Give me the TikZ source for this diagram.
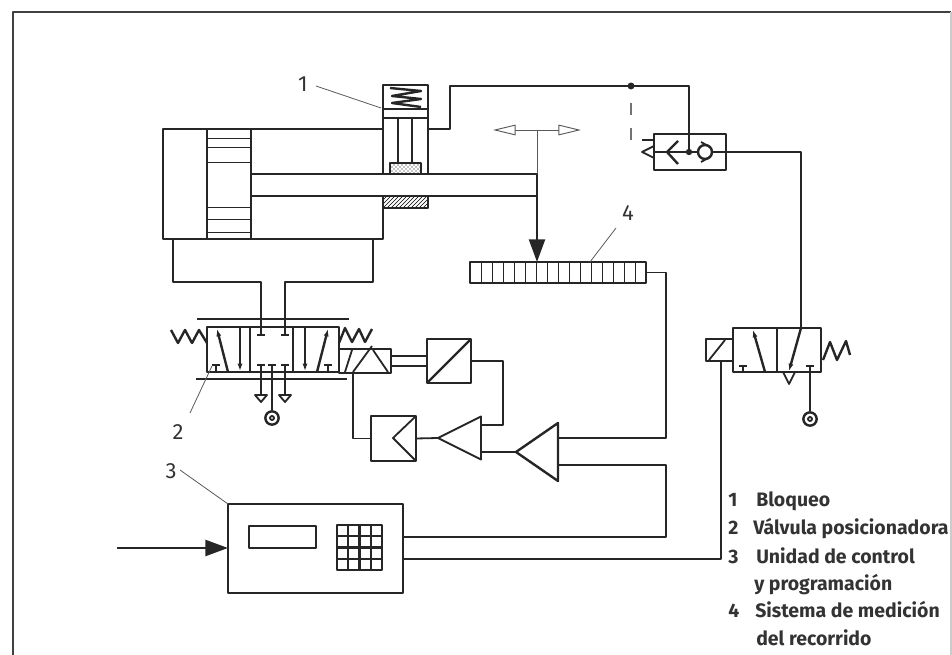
\documentclass[tikz,border=0pt]{standalone}
\usepackage{fontspec}
\setmainfont{Fira Sans}
\usetikzlibrary{arrows.meta, positioning, shapes.geometric, patterns, calc}

\begin{document}
\begin{tikzpicture}[x=.75pt, y=-.75pt, line join=round, color=black!85,
    ln/.style={line width=1.8pt},
    tn/.style={line width=1.35pt},
    leader/.style={line width=.6pt, color=black!65},
    box/.style={draw, ln, rectangle, inner sep=0pt, outer sep=0pt},
    amp/.style={draw, tn, isosceles triangle, shape border rotate=180, isosceles triangle stretches, inner sep=0pt, outer sep=0pt, anchor=apex},
    flowtip/.style={-{Latex[length=5.5pt, width=3.8pt]}},
    bigtip/.style={-{Triangle[length=17pt, width=12pt]}},
    opentip/.style={-{Triangle[open, length=17pt, width=8pt, fill=white]}},
    stopbar/.style={ln, line cap=butt},
    port/.style={draw, ln, circle, fill=white, minimum size=10pt, inner sep=0pt},
    portdot/.style={draw, tn, circle, minimum size=3pt, inner sep=0pt},
    num/.style={font=\fontsize{16.5}{16.5}\selectfont, color=black!80},
    lgd/.style={font=\fontsize{14.6}{14.6}\selectfont\bfseries, color=black!80, anchor=base west, inner sep=0pt}]
    \useasboundingbox (0,0) rectangle (952,655);

    \draw[line width=1.5pt, color=black!75] (13,655) -- (13,12) -- (951,12);
    \draw[line width=1pt, color=black!20] (951,12) -- (951,655);

    % cylinder
    \node[box, minimum width=165pt, minimum height=82.5pt, anchor=north west] (cyl) at (163,129) {};
    \node[box, tn, minimum width=33pt, minimum height=82.5pt, anchor=north west] (piston) at (207,129) {};
    \foreach \y in {138,147,162,207,219,232}
        \draw[line width=.5pt] (207,\y) -- (251,\y);
    \node[box, fill=white, minimum width=214.5pt, minimum height=16.5pt, anchor=north west] (rod) at (251,174) {};

    % lock
    \node[box, minimum width=33.75pt, minimum height=66.75pt, anchor=north west] (lock) at (383,85) {};
    \draw[tn] (383,109) -- (428,109) (383,118) -- (428,118);
    \draw[ln] (398,118) -- (398,163) (412,118) -- (412,163);
    \draw[ln, pattern=crosshatch dots] (390,174) -- (390,163) -- (421,163) -- (421,174);
    \draw[ln] (390,88) -- (421,91) -- (392,96) -- (421,99) -- (392,103) -- (421,107);
    \node[box, tn, pattern=north east lines, minimum width=33.75pt, minimum height=9pt, anchor=north west] (pad) at (383,196) {};

    % position scale
    \node[box, minimum width=132pt, minimum height=15.75pt, anchor=north west] (scale) at (470,262) {};
    \foreach \i in {1,...,15}
        \draw[line width=.5pt] ($(470,262)+(\i*11,0)$) -- ++(0,21);
    \coordinate (rodtip) at (537,196);
    \draw[ln, bigtip] (rodtip) -- (rodtip |- scale.north);
    \coordinate (motion) at (537,130);
    \draw[leader, line width=.7pt] (motion) -- (537,174);
    \draw[leader, line width=.7pt, opentip] (motion) -- (493,130);
    \draw[leader, line width=.7pt, opentip] (motion) -- (581,130);

    % position valve
    \node[box, minimum width=99pt, minimum height=33.75pt, anchor=north west] (valve) at (207,327) {};
    \draw[ln] (250,327) -- (250,372) (293,327) -- (293,372);
    \draw[ln] (197,319) -- (349,319);
    \draw[line width=2.2pt] (196,379) -- (347,379);
    \draw[ln, flowtip] (228,372) -- (217,329);
    \draw[ln, flowtip] (240,327) -- (240,371);
    \draw[ln, flowtip] (305,327) -- (305,371);
    \draw[ln, flowtip] (317,372) -- (328,329);
    \foreach \x in {261,285} {
        \draw[stopbar] (\x-4,335) -- (\x+4,335);
        \draw[stopbar] (\x-4,365) -- (\x+4,365);
        \draw[tn] (\x,365) -- (\x,395);
        \draw[tn] (\x-6,395) -- (\x+6,395) -- (\x,402) -- cycle;
    }
    \foreach \x/\y in {216/365,272/365,328/365} {
        \draw[stopbar] (\x-4,\y) -- (\x+4,\y);
    }
    \draw[tn] (216,365) -- (216,372) (328,365) -- (328,372);
    \node[port] (supply1) at (272,418) {};
    \node[portdot] at (supply1) {};
    \draw[line width=2.2pt] (272,365) -- (supply1);
    \draw[tn] (173,239) |- (261,282) -- (261,335);
    \draw[tn] (373,239) |- (285,282) -- (285,335);
    \draw[ln] (171,330) -- (178,343) -- (185,330) -- (192,343) -- (199,330) -- (207,343);
    \draw[ln] (339,343) -- (345,328) -- (352,342) -- (359,329) -- (365,342) -- (372,329);

    % solenoid
    \node[box, minimum width=39pt, minimum height=18pt, anchor=north west] (coil) at (339,349) {};
    \draw[tn] (345,372) -- (352,350) (353,372) -- (372,346) (373,350) -- (388,372);
    \node[box, tn, minimum width=33pt, minimum height=33pt, anchor=north west] (dac) at (427,339) {};
    \draw[ln] (dac.south west) -- (dac.north east);
    \draw[tn] (391,356) -- (427,356) (391,366) -- (427,366);
    \node[box, minimum width=33.75pt, minimum height=33.75pt, anchor=north west] (ctrl) at (371,416) {};
    \draw[tn] (ctrl.north east) -- (393,438) -- (ctrl.south east);

    % amplifiers
    \node[amp, minimum width=32.25pt, minimum height=32.25pt] (amp1) at (438,438) {};
    \node[amp, ln, minimum width=43.5pt, minimum height=31.5pt] (amp2) at (516,452) {};
    \draw[tn] (amp1.apex) -- (ctrl.east);
    \draw[ln] (amp2.apex) -- (482,452);
    \draw[tn] (353,372) |- (ctrl.west);
    \draw[ln] (dac.east) -| (503,425) -- (482,425);
    \coordinate (ampin1) at (558,438);
    \coordinate (ampin2) at (558,465);
    \draw[tn] (scale.east) -- (666,272.5) |- (ampin1);

    % control unit
    \node[box, minimum width=131.25pt, minimum height=66.75pt, anchor=north west] (unit) at (228,504) {};
    \node[box, minimum width=50.25pt, minimum height=16.5pt, anchor=north west] (display) at (249,526) {};
    \node[box, minimum width=33.75pt, minimum height=33.75pt, anchor=north west] (keys) at (337,525) {};
    \foreach \i in {1,2,3} {
        \draw[ln] ($(keys.north west)+(\i*11.25,0)$) -- ++(0,45);
        \draw[ln] ($(keys.north west)+(0,\i*11.25)$) -- ++(45,0);
    }
    \coordinate (input) at (117,548);
    \draw[ln, bigtip] (input) -- (228,548);
    \draw[tn] (ampin2) -- (666,465) |- (404,537);
    \draw[tn] (404,559) -- (721,559) -- (721,361);

    % pneumatic lock circuit
    \node[box, tn, minimum width=54pt, minimum height=27pt, anchor=north west] (shuttle) at (654,134) {};
    \coordinate (pilot) at (631,86);
    \coordinate (junction) at (689,152);
    \draw[ln] (428,129) -- (450,129) |- (689,86) -- (junction);
    \fill (pilot) circle (2.6pt);
    \fill (junction) circle (2.4pt);
    \draw[line width=1.6pt, color=black!55] (631,103) -- (631,115) (631,128) -- (631,140);
    \draw[tn] (654,146) -- (642,152) -- (654,158) (642,140) -- (654,140);
    \draw[ln] (654,152) -- (698,152);
    \draw[ln] (678,141) -- (667,152) -- (678,164);
    \node[draw, ln, circle, fill=white, minimum size=10.5pt, inner sep=0pt] (ball) at (705,152) {};
    \draw[tn] (701,142) -- (710,147) (701,162) -- (710,157);
    \draw[ln] (ball.east) -- (shuttle.east);
    \draw[ln] (shuttle.east) -- (801,152) -- (801,328);

    % lock valve
    \node[box, minimum width=66pt, minimum height=33pt, anchor=north west] (valve2) at (733,328) {};
    \draw[ln] (777,328) -- (777,372);
    \node[box, tn, minimum width=20pt, minimum height=16.5pt, anchor=north east] (coil2) at (733,339) {};
    \draw[tn] (709,360) -- (725,340);
    \draw[ln, flowtip] (765,372) -- (753,330);
    \draw[ln, flowtip] (801,328) -- (789,371);
    \draw[tn] (783,372) -- (789,384) -- (795,372);
    \draw[stopbar] (739,366) -- (747,366) (806,366) -- (814,366);
    \draw[tn] (743,366) -- (743,372);
    \node[port] (supply2) at (810,419) {};
    \node[portdot] at (supply2) {};
    \draw[ln] (810,366) -- (supply2);
    \draw[ln] (823,360) -- (830,342) -- (837,360) -- (846,341) -- (850,355);

    % callouts
    \node[num] (lbl1) at (303,84) {1};
    \node[num] (lbl2) at (178,432) {2};
    \node[num] (lbl3) at (171,471) {3};
    \node[num] (lbl4) at (628,213) {4};
    \coordinate (hit1) at (381,108);
    \coordinate (hit2) at (212,366);
    \coordinate (hit4) at (590,262);
    \draw[leader] (316,86) -- (hit1);
    \draw[leader] (190,413) -- (hit2);
    \draw[leader] (180,470) -- (unit.north west);
    \draw[leader] (616,228) -- (hit4);

    % legend
    \node[lgd] (key1) at (728,506) {1};
    \node[lgd] (txt1) at (756,506) {Bloqueo};
    \node[lgd] (key2) at (728,534) {2};
    \node[lgd] (txt2) at (753,534) {Válvula posicionadora};
    \node[lgd] (key3) at (728,563) {3};
    \node[lgd] (txt3) at (756,563) {Unidad de control};
    \node[lgd] (txt3b) at (754,590) {y programación};
    \node[lgd] (key4) at (728,617) {4};
    \node[lgd] (txt4) at (755,617) {Sistema de medición};
    \node[lgd] (txt4b) at (756,645) {del recorrido};
\end{tikzpicture}
\end{document}
